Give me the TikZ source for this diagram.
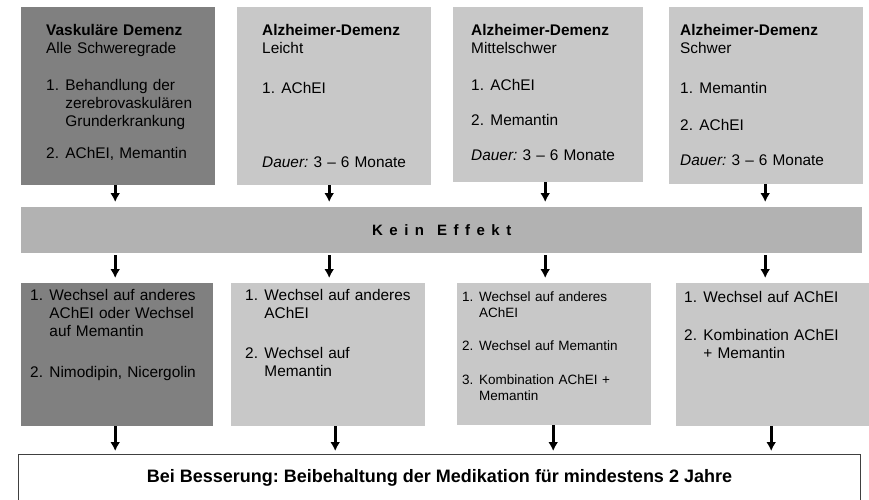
\documentclass[tikz,border=0pt]{standalone}
\usepackage{fontspec}
\setmainfont{Liberation Sans}
\usetikzlibrary{arrows.meta, positioning, calc}
\definecolor{boxdark}{RGB}{128,128,128}
\definecolor{boxlight}{RGB}{200,200,200}
\definecolor{boxband}{RGB}{178,178,178}
\newcommand{\nr}[1]{\makebox[1.25em][l]{#1}}
\newcommand{\nrx}{\hspace*{1.25em}}
\newcommand{\lgap}{\hspace{6.5pt}}
\frenchspacing

\begin{document}
\begin{tikzpicture}[
        x=1pt, y=-1pt,
        box/.style={
            rectangle,
            inner sep=0pt,
            anchor=north west
        },
        dark box/.style={box, fill=boxdark},
        light box/.style={box, fill=boxlight},
        box_text/.style={
            anchor=base west,
            inner sep=0pt,
            text width=#1,
            align=left,
            font=\fontsize{15.4}{18}\selectfont
        },
        box_text/.default=175pt,
        flow_arrow/.style={
            -{Latex[length=9pt, width=10pt]},
            line width=2.8pt
        }
    ]
        \useasboundingbox (0,0) rectangle (869,499);

        % --- TOP ROW: DIAGNOSES ---
        \node[dark box, minimum width=194pt, minimum height=178pt] (vd) at (21,7) {};
        \node[light box, minimum width=194pt, minimum height=178pt] (adl) at (237,7) {};
        \node[light box, minimum width=190pt, minimum height=175pt] (adm) at (453,7) {};
        \node[light box, minimum width=194pt, minimum height=177pt] (ads) at (669,7) {};

        \node[box_text] (vd text) at (46,35) {%
            \textbf{Vaskuläre Demenz}\\
            Alle Schweregrade\\[19pt]
            \nr{1.}Behandlung der\\
            \nrx zerebrovaskulären\\
            \nrx Grunderkrankung\\[14pt]
            \nr{2.}AChEI, Memantin};
        \node[box_text] (adl text) at (262,35) {%
            \textbf{Alzheimer-Demenz}\\
            Leicht\\[22pt]
            \nr{1.}AChEI\\[56pt]
            \textit{Dauer:} 3 – 6 Monate};
        \node[box_text] (adm text) at (471,35) {%
            \textbf{Alzheimer-Demenz}\\
            Mittelschwer\\[19pt]
            \nr{1.}AChEI\\[17pt]
            \nr{2.}Memantin\\[17pt]
            \textit{Dauer:} 3 – 6 Monate};
        \node[box_text] (ads text) at (680,35) {%
            \textbf{Alzheimer-Demenz}\\
            Schwer\\[22pt]
            \nr{1.}Memantin\\[19pt]
            \nr{2.}AChEI\\[17pt]
            \textit{Dauer:} 3 – 6 Monate};

        % --- MIDDLE BAND ---
        \node[box, fill=boxband, minimum width=841pt, minimum height=46pt,
            font=\fontsize{15}{18}\selectfont\bfseries] (band) at (21,207)
            {K\lgap e\lgap i\lgap n\hspace{13pt}E\lgap f\lgap f\lgap e\lgap k\lgap t};

        % --- SECOND ROW: NEXT STEPS ---
        \node[dark box, minimum width=192pt, minimum height=143pt] (vd next) at (21,283) {};
        \node[light box, minimum width=194pt, minimum height=143pt] (adl next) at (231,283) {};
        \node[light box, minimum width=194pt, minimum height=142pt] (adm next) at (457,283) {};
        \node[light box, minimum width=194pt, minimum height=143pt] (ads next) at (676,283) {};

        \node[box_text] (vd next text) at (30,300) {%
            \nr{1.}Wechsel auf anderes\\
            \nrx AChEI oder Wechsel\\
            \nrx auf Memantin\\[23pt]
            \nr{2.}Nimodipin, Nicergolin};
        \node[box_text] (adl next text) at (245,300) {%
            \nr{1.}Wechsel auf anderes\\
            \nrx AChEI\\[22pt]
            \nr{2.}Wechsel auf\\
            \nrx Memantin};
        \node[box_text=180pt, font=\fontsize{13.5}{16}\selectfont] (adm next text) at (462,301) {%
            \nr{1.}Wechsel auf anderes\\
            \nrx AChEI\\[17pt]
            \nr{2.}Wechsel auf Memantin\\[18pt]
            \nr{3.}Kombination AChEI +\\
            \nrx Memantin};
        \node[box_text] (ads next text) at (684,302) {%
            \nr{1.}Wechsel auf AChEI\\[20pt]
            \nr{2.}Kombination AChEI\\
            \nrx + Memantin};

        % --- BOTTOM BOX ---
        \node[box, draw=black!75, line width=1pt, fill=white, minimum width=842pt,
            minimum height=46pt, font=\fontsize{18}{20}\selectfont\bfseries] (ende) at (18,454)
            {Bei Besserung: Beibehaltung der Medikation für mindestens 2 Jahre};

        % --- ARROWS ---
        \foreach \b/\n/\dx in {vd/vd next/-3, adl/adl next/-5, adm/adm next/-3, ads/ads next/-1} {
            \draw[flow_arrow, shorten >=5pt] ([xshift=\dx pt]\b.south) -- ([xshift=\dx pt]\b.south |- band.north);
            \draw[flow_arrow, shorten <=2pt, shorten >=5pt] ([xshift=\dx pt]band.south -| \b.south) -- ([xshift=\dx pt]\n.north -| \b.south);
        }
        \foreach \n/\dx in {vd next/-2, adl next/7, adm next/-1, ads next/-2} {
            \draw[flow_arrow, shorten >=3pt] ([xshift=\dx pt]\n.south) -- ([xshift=\dx pt]\n.south |- ende.north);
        }

    \end{tikzpicture}
\end{document}
